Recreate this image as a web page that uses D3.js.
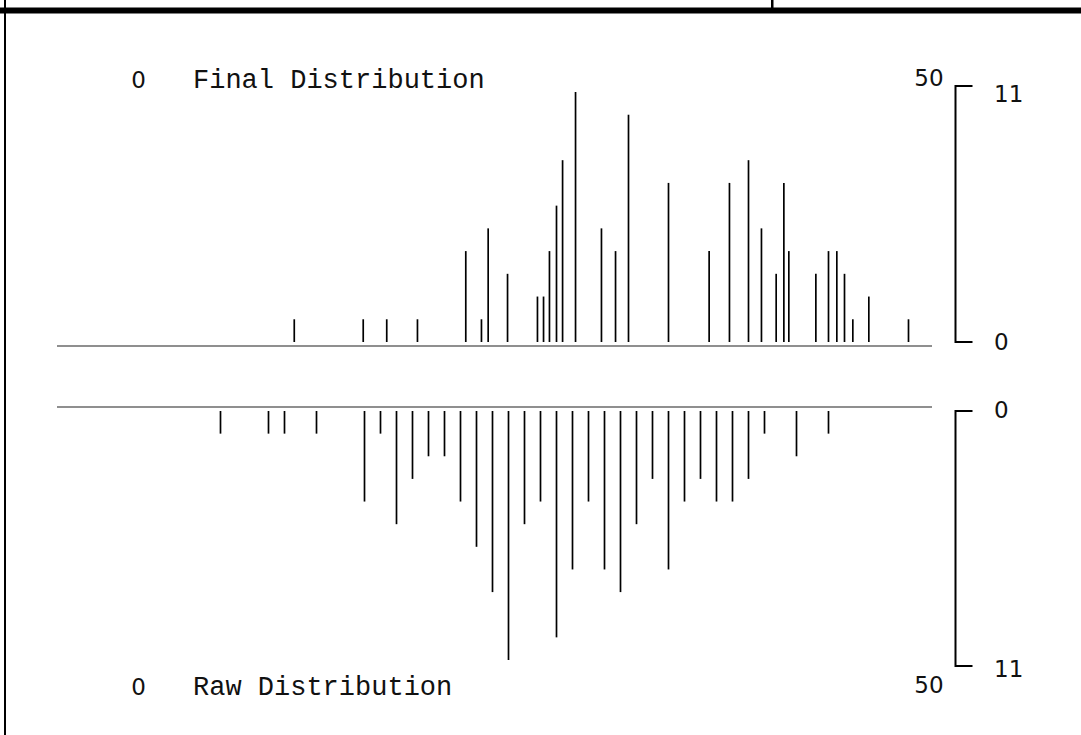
<!DOCTYPE html>
<html>
<head>
<meta charset="utf-8">
<script src="https://cdn.jsdelivr.net/npm/d3@7"></script>
<style>
  html, body { margin: 0; padding: 0; background: #fff; }
  svg { display: block; }
</style>
</head>
<body>
<svg id="chart" width="1081" height="735"></svg>
<script>
// ---- data ----
const counts = [1,1,1,1,4,1,5,3,2,2,4,6,8,11,5,4,10,7,4,7,8,5,3,7,4,3,4,4,3,1,2,1];
const rawPositions = [5,8,9,11,14,15,16,17,18,19,20,21,22,23,24,25,26,27,28,29,30,31,32,33,34,35,36,37,38,39,41,43];
const finalPositions = [9.61,13.92,15.39,17.31,20.33,21.31,21.73,22.94,24.81,25.19,25.56,26.0,26.38,27.19,28.81,29.69,30.5,33.0,35.54,36.81,38.0,38.81,39.73,40.21,40.52,42.21,43.0,43.52,44.0,44.52,45.52,48.0];
const xDomain = [0, 50];
const countDomain = [0, 11];
const titles = ["Final Distribution", "Raw Distribution"];

const finalData = finalPositions.map((p, i) => ({ x: p, c: counts[i] }));
const rawData = rawPositions.map((p, i) => ({ x: p, c: counts[i] }));

const svg = d3.select("#chart");

// frame
svg.append("rect").attr("x", 0).attr("y", 7.5).attr("width", 1081).attr("height", 6).attr("fill", "#000");
svg.append("rect").attr("x", 4).attr("y", 0).attr("width", 2).attr("height", 735).attr("fill", "#000");
svg.append("rect").attr("x", 771).attr("y", 0).attr("width", 2.5).attr("height", 10).attr("fill", "#000");

const x = d3.scaleLinear().domain(xDomain).range([140.5, 940.5]);
const yUp = d3.scaleLinear().domain(countDomain).range([342, 92]);
const yDown = d3.scaleLinear().domain(countDomain).range([411, 660]);

// baselines
svg.append("line").attr("x1", 57).attr("x2", 932).attr("y1", 346).attr("y2", 346)
  .attr("stroke", "#6a6a6a").attr("stroke-width", 1.3);
svg.append("line").attr("x1", 57).attr("x2", 932).attr("y1", 407).attr("y2", 407)
  .attr("stroke", "#6a6a6a").attr("stroke-width", 1.3);

// bars
svg.append("g").selectAll("line").data(finalData).join("line")
  .attr("x1", d => x(d.x)).attr("x2", d => x(d.x))
  .attr("y1", yUp(0)).attr("y2", d => yUp(d.c))
  .attr("stroke", "#000").attr("stroke-width", 1.7);

svg.append("g").selectAll("line").data(rawData).join("line")
  .attr("x1", d => x(d.x)).attr("x2", d => x(d.x))
  .attr("y1", yDown(0)).attr("y2", d => yDown(d.c))
  .attr("stroke", "#000").attr("stroke-width", 1.7);

// brackets (count axes)
const bx = 955.5, bw = 17;
function bracket(y0, y1) {
  svg.append("path")
    .attr("d", `M${bx + bw},${y0}H${bx}V${y1}H${bx + bw}`)
    .attr("fill", "none").attr("stroke", "#000").attr("stroke-width", 2);
}
bracket(yUp(countDomain[1]) - 6, yUp(countDomain[0]));
bracket(yDown(countDomain[0]), yDown(countDomain[1]) + 6);

const sans = "DejaVu Sans";
const mono = "Liberation Mono";
function label(txt, lx, ly, font, size, anchor) {
  svg.append("text").attr("x", lx).attr("y", ly).attr("font-family", font)
    .attr("font-size", size).attr("text-anchor", anchor || "start").attr("fill", "#111").text(txt);
}
// count labels
label(String(countDomain[1]), 994, 102, sans, 23);
label(String(countDomain[0]), 994, 350, sans, 23);
label(String(countDomain[0]), 994, 418, sans, 23);
label(String(countDomain[1]), 994, 677, sans, 23);

// x extent labels
label(String(xDomain[0]), 138.5, 88, sans, 23, "middle");
label(String(xDomain[1]), 929, 86, sans, 23, "middle");
label(String(xDomain[0]), 138.5, 695, sans, 23, "middle");
label(String(xDomain[1]), 929, 693, sans, 23, "middle");

// titles
label(titles[0], 193, 88, mono, 27);
label(titles[1], 193, 695, mono, 27);
</script>
</body>
</html>
